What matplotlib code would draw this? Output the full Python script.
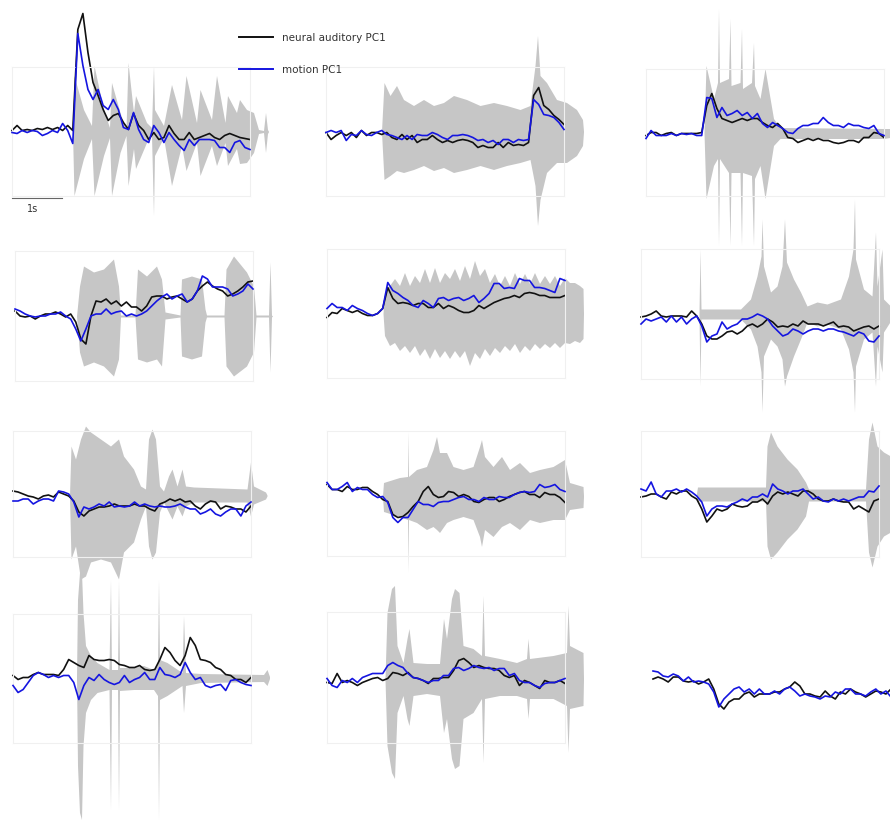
import matplotlib
matplotlib.use('Agg')
import matplotlib.pyplot as plt
from matplotlib.lines import Line2D
import numpy as np

# each trace covers the same stretch of time, 48 samples
DUR = 4.76

# ---- panel data: PC1 traces (a.u.) and sound envelope keypoints (t in s, hi/lo in a.u.)
p1_black = [1, 6, 1, 2, 1, 3, 2, 4, 2, 4, 1, 6, 1, 102, 118, 79, 49, 36, 22, 11, 16, 18, 9, 2, 18, 6, 1, -8, -1, -8,
            -6, 6, -2, -8, -8, -1, -8, -6, -4, -2, -6, -8, -4, -2, -4, -6, -7, -8]
p1_blue = [-1, -2, 1, -1, 1, 0, -4, -2, 1, -1, 8, 1, -12, 98, 66, 42, 32, 42, 26, 22, 32, 22, 4, 2, 19, 2, -8, -11, 6, -1,
           -11, -1, -8, -14, -19, -8, -14, -8, -8, -8, -9, -16, -16, -21, -11, -9, -16, -18]
p1_t = [1.21, 1.24, 1.43, 1.59, 1.64, 1.83, 1.95, 1.99, 2.16, 2.28, 2.32, 2.43, 2.47, 2.69, 2.79, 2.83, 2.85, 3.03,
        3.19, 3.39, 3.48, 3.69, 3.76, 3.99, 4.09, 4.26, 4.31, 4.49, 4.55, 4.69, 4.83, 4.93, 5.03, 5.07, 5.11, 5.13]
p1_hi = [0.2, 56, 22, 6, 66, 22, 4, 49, 19, 2, 69, 19, 36, 9, 4, 66, 22, 6, 47, 12, 56, 9, 42, 12, 56, 9, 36, 19, 32,
         22, 19, 2, 1, 19, 2, 0.2]
p1_lo = [-0.2, -64, -27, -7, -64, -24, -6, -64, -21, -4, -54, -17, -37, -11, -4, -84, -24, -6, -54, -14, -39, -11, -44,
         -14, -34, -11, -34, -17, -32, -31, -21, -2, -1, -21, -2, -0.2]

p2_black = [-1, -8, -4, -1, -4, -1, -6, 1, -4, -1, -1, -3, -1, -6, -8, -3, -8, -4, -11, -8, -8, -4, -8, -11, -9, -11,
            -9, -8, -9, -11, -16, -14, -16, -16, -11, -16, -11, -14, -13, -14, -11, 36, 44, 26, 22, 16, 12, 7]
p2_blue = [-1, 1, -1, 1, -9, -3, -4, 1, -3, -4, -1, 1, -3, -4, -6, -8, -4, -8, -3, -4, -4, -1, -3, -6, -8, -4, -4, -3,
           -4, -6, -9, -8, -11, -9, -13, -8, -8, -11, -8, -9, -8, 32, 27, 17, 16, 14, 9, 2]
p2_t = [1.11, 1.16, 1.28, 1.41, 1.55, 1.75, 1.95, 2.15, 2.35, 2.55, 2.81, 3.08, 3.35, 3.61, 3.88, 4.08, 4.18, 4.23,
        4.28, 4.41, 4.61, 4.81, 5.01, 5.13, 5.15]
p2_hi = [0.5, 49, 36, 46, 32, 26, 32, 26, 29, 36, 32, 26, 29, 26, 22, 26, 66, 96, 56, 49, 32, 29, 22, 12, 0.5]
p2_lo = [-0.5, -48, -44, -39, -41, -38, -34, -39, -36, -41, -38, -34, -38, -34, -31, -28, -54, -94, -68, -41, -31,
         -31, -24, -14, -0.5]

p3_black = [-3, 0, 0, -3, -1, 0, -3, -1, -1, -1, -1, 0, 27, 39, 24, 14, 12, 10, 12, 14, 12, 14, 14, 10, 7, 5, 9, 4,
            -5, -6, -10, -8, -6, -8, -6, -8, -8, -10, -11, -10, -8, -8, -10, -5, -5, 0, -1, -5]
p3_blue = [-6, 2, -3, -3, -3, -1, -3, -1, -2, -1, -3, -3, 35, 34, 15, 25, 17, 19, 22, 17, 20, 14, 19, 9, 5, 10, 7, 4,
           0, -1, 4, 7, 7, 9, 9, 15, 10, 7, 7, 5, 9, 7, 7, 5, 4, 7, -1, -3]
p3_t = [1.16, 1.2, 1.35, 1.43, 1.45, 1.47, 1.65, 1.68, 1.7, 1.88, 1.91, 1.93, 2.11, 2.15, 2.17, 2.28, 2.38, 2.55,
        2.68, 4.75, 4.88, 4.89]
p3_hi = [0, 67, 34, 50, 124, 50, 54, 114, 47, 50, 104, 44, 50, 90, 47, 34, 64, 14, 5, 4, 4, 0]
p3_lo = [0, -66, -33, -26, -113, -26, -40, -113, -40, -40, -113, -40, -43, -113, -46, -33, -66, -13, -6, -6, -5, 0]

p4_black = [5, 0, -1, 0, -3, 0, 2, 2, 4, 2, -1, 2, -6, -23, -28, 0, 15, 14, 17, 12, 15, 10, 14, 9, 9, 5, 10, 19, 20,
            20, 17, 19, 20, 17, 14, 17, 25, 30, 34, 30, 27, 25, 20, 22, 25, 29, 34, 35]
p4_blue = [7, 5, 2, 0, -1, 0, 0, 2, 2, 4, 0, -3, -13, -25, -13, 0, 2, 2, 7, 2, 4, 5, 0, 2, 0, 2, 5, 10, 15, 19, 22,
           17, 20, 22, 14, 17, 25, 40, 37, 29, 29, 29, 27, 20, 22, 25, 32, 27]
p4_t = [1.23, 1.29, 1.37, 1.57, 1.77, 1.97, 2.07, 2.11, 2.4, 2.45, 2.63, 2.83, 2.93, 3.0, 3.3, 3.33, 3.53, 3.73,
        3.8, 3.83, 4.18, 4.22, 4.37, 4.63, 4.77, 4.82, 5.07, 5.1, 5.13, 5.15]
p4_hi = [0, 30, 50, 44, 47, 57, 30, 1, 1, 47, 40, 50, 37, 4, 1, 37, 40, 37, 7, 1, 1, 47, 60, 44, 30, 1, 1, 54, 1, 0]
p4_lo = [0, -36, -50, -46, -50, -60, -43, -1, -1, -43, -46, -43, -50, -3, -1, -40, -43, -40, -6, -1, -1, -50, -60,
         -50, -36, -1, -1, -56, -1, 0]

p5_black = [-4, 1, 0, 5, 3, 1, 3, 0, -2, -2, 0, 5, 26, 15, 10, 11, 10, 8, 10, 10, 6, 6, 10, 5, 8, 6, 3, 1, 1, 3, 8,
            5, 8, 11, 13, 15, 16, 18, 16, 20, 21, 20, 18, 18, 16, 16, 16, 18]
p5_blue = [5, 10, 6, 6, 3, 8, 5, 3, 0, -2, 0, 5, 31, 23, 20, 16, 13, 8, 6, 13, 10, 6, 15, 16, 13, 15, 16, 13, 15, 18,
           11, 15, 20, 30, 30, 25, 26, 25, 35, 33, 33, 26, 26, 25, 23, 21, 35, 33]
p5_t = [1.12, 1.15, 1.25, 1.35, 1.45, 1.55, 1.65, 1.75, 1.85, 1.95, 2.05, 2.15, 2.25, 2.35, 2.45, 2.55, 2.65, 2.75,
        2.85, 2.95, 3.05, 3.15, 3.25, 3.35, 3.45, 3.55, 3.65, 3.75, 3.85, 3.95, 4.05, 4.15, 4.25, 4.35, 4.45, 4.55,
        4.65, 4.75, 4.85, 4.95, 5.05, 5.12, 5.13]
p5_hi = [0, 21, 28, 35, 28, 41, 28, 38, 31, 45, 31, 46, 31, 41, 35, 45, 33, 48, 35, 53, 38, 45, 31, 40, 28, 38, 28,
         41, 30, 40, 30, 41, 30, 38, 30, 38, 28, 36, 31, 31, 28, 25, 0]
p5_lo = [0, -22, -32, -29, -37, -32, -39, -32, -42, -35, -45, -35, -44, -37, -45, -37, -44, -37, -52, -39, -45, -35,
         -42, -34, -39, -32, -37, -30, -39, -32, -37, -30, -35, -30, -34, -29, -34, -29, -30, -27, -29, -25, 0]

p6_black = [-3, -2, 0, 3, -2, -3, -2, -2, -2, -3, 3, -2, -10, -22, -25, -25, -22, -18, -17, -20, -17, -12, -10, -13,
            -10, -5, -8, -13, -12, -13, -10, -12, -7, -10, -10, -10, -12, -10, -8, -13, -12, -13, -17, -15, -13, -12,
            -15, -12]
p6_blue = [-10, -5, -7, -5, -3, -8, -2, -8, -3, -10, -5, -2, -12, -28, -22, -20, -8, -15, -12, -10, -5, -5, -3, 0, -2,
           -5, -12, -17, -22, -20, -15, -17, -20, -17, -15, -15, -17, -15, -15, -17, -18, -20, -22, -18, -20, -27, -28,
           -22]
p6_t = [1.16, 1.18, 1.2, 1.99, 2.19, 2.32, 2.4, 2.42, 2.45, 2.59, 2.72, 2.82, 2.87, 2.91, 3.05, 3.19, 3.32, 3.52,
        3.72, 3.99, 4.15, 4.24, 4.27, 4.29, 4.45, 4.62, 4.69, 4.72, 4.82, 4.85, 4.99, 5.0]
p6_hi = [1, 65, 5, 5, 15, 38, 58, 95, 48, 22, 28, 48, 95, 52, 35, 22, 8, 12, 10, 15, 38, 65, 115, 55, 25, 18, 82, 28,
         65, 15, 8, 1]
p6_lo = [-1, -72, -5, -5, -15, -32, -58, -98, -42, -25, -32, -45, -72, -62, -42, -25, -8, -12, -10, -15, -35, -58,
         -98, -52, -25, -18, -72, -32, -58, -18, -7, -1]

p7_black = [3, 2, 0, -2, -3, -5, -2, -1, -3, 2, 0, -2, -7, -18, -22, -17, -15, -13, -13, -12, -10, -12, -12, -12,
            -10, -12, -12, -15, -17, -10, -8, -5, -7, -5, -8, -7, -12, -15, -10, -7, -8, -15, -12, -13, -15, -15, -18,
            -12]
p7_blue = [-7, -7, -5, -5, -10, -7, -5, -5, -7, 3, 2, 0, -8, -23, -13, -15, -13, -10, -12, -8, -13, -12, -13, -12,
           -8, -12, -10, -12, -13, -12, -13, -13, -12, -10, -13, -15, -15, -20, -18, -15, -20, -22, -18, -15, -15, -22,
           -12, -8]
p7_t = [1.13, 1.16, 1.25, 1.35, 1.45, 1.55, 1.75, 1.95, 2.11, 2.21, 2.41, 2.55, 2.65, 2.71, 2.78, 2.85, 2.93, 3.01,
        3.11, 3.18, 3.28, 3.38, 3.45, 3.61, 4.68, 4.75, 4.81, 5.05, 5.08]
p7_hi = [-1, 48, 35, 55, 68, 62, 55, 48, 55, 38, 25, 8, 5, 55, 65, 55, 8, 3, 18, 25, 8, 25, 8, 7, 5, 32, 8, 2, -1]
p7_lo = [-2, -65, -52, -85, -82, -68, -65, -68, -85, -58, -48, -25, -12, -52, -65, -58, -18, -8, -18, -25, -12, -22,
         -12, -8, -8, -22, -10, -5, -2]

p8_black = [9, 4, 4, 2, 7, 4, 4, 6, 6, 2, -1, -6, -8, -21, -24, -23, -19, -13, -8, 2, 7, -1, -4, -3, 2, 1, -3, -1,
            -3, -8, -9, -6, -4, -4, -8, -6, -3, -1, 1, 2, -1, -1, -4, 1, -1, -1, -4, -9]
p8_blue = [11, 4, 4, 7, 11, 2, 6, 4, 4, -1, -4, -3, -9, -24, -29, -24, -24, -16, -8, -11, -11, -13, -9, -8, -8, -6,
           -4, -3, -6, -6, -8, -4, -6, -6, -3, -4, -4, -1, 1, 2, 1, 2, 9, 6, 7, 9, 4, 2]
p8_t = [1.11, 1.13, 1.45, 1.61, 1.62, 1.63, 1.79, 1.99, 2.12, 2.19, 2.25, 2.39, 2.52, 2.72, 2.92, 3.05, 3.09, 3.15,
        3.32, 3.49, 3.65, 3.85, 4.05, 4.25, 4.52, 4.75, 4.85, 5.12, 5.13]
p8_hi = [-2, 11, 16, 17, 62, 17, 24, 27, 44, 57, 41, 41, 27, 24, 27, 47, 54, 37, 27, 37, 24, 31, 21, 24, 27, 34, 11,
         7, -2]
p8_lo = [-3, -18, -23, -26, -79, -26, -29, -36, -33, -36, -39, -29, -26, -23, -26, -43, -53, -36, -43, -33, -29, -36,
         -26, -29, -26, -26, -16, -14, -3]

p9_black = [-3, -2, 0, 0, -3, -5, 2, 0, 3, 3, -2, -5, -15, -28, -22, -15, -17, -15, -10, -12, -13, -12, -8, -8, -5,
            -10, -2, 2, 0, 2, 0, -2, 3, 3, 0, -5, -7, -7, -5, -7, -8, -8, -15, -12, -15, -18, -7, -5]
p9_blue = [5, 3, 12, 0, -3, 3, 3, 5, 2, 5, 2, -2, -8, -22, -15, -12, -12, -13, -10, -8, -5, -7, -3, -3, 0, -3, 10, 5,
           3, 0, 3, 3, 5, 0, -5, -3, -7, -8, -5, -7, -5, -7, -5, -3, -3, 3, 2, 8]
p9_t = [1.11, 1.13, 2.49, 2.52, 2.59, 2.72, 2.92, 3.12, 3.29, 3.35, 4.49, 4.55, 4.62, 4.72, 4.85, 4.99]
p9_hi = [1, 7, 7, 48, 62, 48, 35, 25, 12, 5, 5, 55, 72, 48, 42, 38]
p9_lo = [-1, -7, -7, -52, -65, -58, -45, -35, -22, -7, -7, -58, -73, -52, -42, -38]

p10_black = [3, -1, 1, 1, 4, 6, 4, 4, 4, 3, 9, 19, 16, 13, 11, 23, 19, 18, 18, 19, 18, 14, 13, 11, 11, 13, 9, 8, 9,
             19, 31, 26, 18, 13, 23, 41, 33, 19, 18, 16, 11, 9, 4, 3, -1, -1, -4, 1]
p10_blue = [-7, -14, -11, -4, 3, 6, 4, 1, 3, 1, 3, 3, -4, -21, -7, 1, -2, 4, -1, -4, -6, -4, 3, -4, -1, 1, 6, -1, -1,
            11, 4, 3, 1, 4, 16, 6, -1, 1, -7, -9, -7, -6, -12, -2, -1, -4, -6, -7]
p10_t = [1.27, 1.29, 1.33, 1.37, 1.4, 1.45, 1.55, 1.68, 1.92, 1.95, 1.97, 2.09, 2.11, 2.13, 2.41, 2.61, 2.81, 2.89,
         2.91, 2.93, 3.08, 3.38, 3.41, 3.45, 3.75, 5.01, 5.08, 5.13]
p10_hi = [2, 79, 106, 106, 66, 33, 23, 16, 9, 99, 9, 9, 99, 11, 11, 13, 9, 16, 99, 19, 16, 6, 63, 6, 5, 4, 9, 2]
p10_lo = [0, -87, -134, -141, -67, -34, -21, -14, -11, -131, -11, -11, -131, -12, -11, -11, -11, -17, -141, -21, -17,
          -7, -34, -7, -4, -3, -7, 0]

p11_black = [-5, -6, 4, -5, -3, -5, -8, -5, -3, -1, 0, -3, -1, 5, 4, 2, 5, 0, -1, -3, -6, -1, -1, 0, 0, 7, 17, 19,
             15, 10, 12, 10, 9, 9, 7, 2, 0, 2, -8, -3, -5, -8, -11, -3, -5, -5, -3, -6]
p11_blue = [-1, -8, -10, -3, -5, -1, -5, 0, 2, 4, 4, 4, 12, 15, 12, 10, 4, 0, -1, -3, -5, -3, -3, 2, 2, 9, 10, 7, 9,
            12, 10, 9, 10, 7, 9, 9, 2, 4, -3, -5, -5, -8, -10, -6, -5, -5, -3, -1]
p11_t = [1.16, 1.2, 1.29, 1.35, 1.4, 1.52, 1.6, 1.64, 1.72, 1.99, 2.25, 2.33, 2.39, 2.49, 2.55, 2.64, 2.72, 2.92,
         3.09, 3.12, 3.15, 3.45, 3.79, 3.99, 4.02, 4.05, 4.52, 4.79, 4.82, 4.85, 5.12, 5.13]
p11_hi = [-1, 65, 89, 92, 32, 15, 39, 49, 15, 14, 14, 59, 39, 79, 89, 85, 32, 29, 22, 82, 22, 19, 15, 19, 39, 19, 22,
          25, 72, 32, 25, -1]
p11_lo = [-2, -68, -95, -101, -35, -18, -41, -48, -18, -16, -18, -55, -41, -81, -91, -88, -41, -35, -21, -85, -21,
          -18, -18, -21, -41, -21, -21, -28, -75, -31, -28, -2]

p12_black = [-1, 1, -1, -4, 1, 1, -3, -4, -3, -6, -4, -1, -11, -26, -31, -24, -21, -21, -16, -14, -19, -16, -16, -16,
             -14, -14, -11, -9, -4, -8, -16, -16, -18, -19, -13, -18, -21, -14, -16, -11, -14, -16, -19, -16, -13,
             -14, -16, -11]
p12_blue = [7, 6, 2, 1, 4, 2, -3, 1, -4, -3, -4, -6, -14, -29, -21, -16, -11, -9, -14, -11, -16, -11, -16, -16, -13,
            -16, -11, -9, -13, -18, -16, -18, -19, -21, -18, -19, -14, -16, -11, -11, -16, -16, -18, -14, -11, -16,
            -13, -19]
p12_t, p12_hi, p12_lo = [], [], []

panels = [
    (p1_black, p1_blue, p1_t, p1_hi, p1_lo),
    (p2_black, p2_blue, p2_t, p2_hi, p2_lo),
    (p3_black, p3_blue, p3_t, p3_hi, p3_lo),
    (p4_black, p4_blue, p4_t, p4_hi, p4_lo),
    (p5_black, p5_blue, p5_t, p5_hi, p5_lo),
    (p6_black, p6_blue, p6_t, p6_hi, p6_lo),
    (p7_black, p7_blue, p7_t, p7_hi, p7_lo),
    (p8_black, p8_blue, p8_t, p8_hi, p8_lo),
    (p9_black, p9_blue, p9_t, p9_hi, p9_lo),
    (p10_black, p10_blue, p10_t, p10_hi, p10_lo),
    (p11_black, p11_blue, p11_t, p11_hi, p11_lo),
    (p12_black, p12_blue, p12_t, p12_hi, p12_lo),
]

# panel boxes in pixels: left, top, width, height
boxes = [(12, 68, 238, 129), (326, 68, 238, 129), (646, 70, 238, 127),
         (15, 252, 238, 130), (327, 250, 238, 129), (641, 250, 238, 130),
         (13, 432, 238, 126), (327, 432, 238, 125), (641, 432, 238, 126),
         (13, 615, 238, 129), (327, 613, 238, 131), (653, 614, 238, 130)]

W, H = 890, 829
fig = plt.figure(figsize=(W / 100, H / 100), dpi=100)

axes = []
for i, ((blk, blu, et, eh, el), (x0, y0, w, h)) in enumerate(zip(panels, boxes)):
    ax = fig.add_axes([x0 / W, 1 - (y0 + h) / H, w / W, h / H])
    ax.patch.set_alpha(0)
    ax.set_xlim(0, w / 50)
    ax.set_ylim(-h / 2, h / 2)
    if len(et):
        ax.fill_between(et, el, eh, color='#c6c6c6', lw=0, clip_on=False, zorder=1)
    t = np.linspace(0, DUR, len(blk))
    ax.plot(t, blk, color='#111111', lw=1.2, clip_on=False, zorder=2)
    ax.plot(t, blu, color='#1515e0', lw=1.2, clip_on=False, zorder=3)
    ax.set_xticks([])
    ax.set_yticks([])
    for s in ax.spines.values():
        s.set_color('#f0f0f0' if i < 11 else 'none')
        s.set_linewidth(0.8)
    axes.append(ax)

# 1 s scale bar under the first panel
axes[0].plot([0, 1], [-66, -66], color='#666666', lw=0.8, clip_on=False)
axes[0].text(0.42, -76.5, '1s', ha='center', va='center', fontsize=7, color='#333333')

# legend
for yy, col, lab in [(38, '#111111', 'neural auditory PC1'), (70, '#1515e0', 'motion PC1')]:
    fig.add_artist(Line2D([239 / W, 273 / W], [1 - yy / H, 1 - yy / H], color=col, lw=1.4,
                          transform=fig.transFigure))
    fig.text(282 / W, 1 - yy / H, lab, ha='left', va='center', fontsize=7.5, color='#333333')

fig.savefig('out.png', dpi=100)
